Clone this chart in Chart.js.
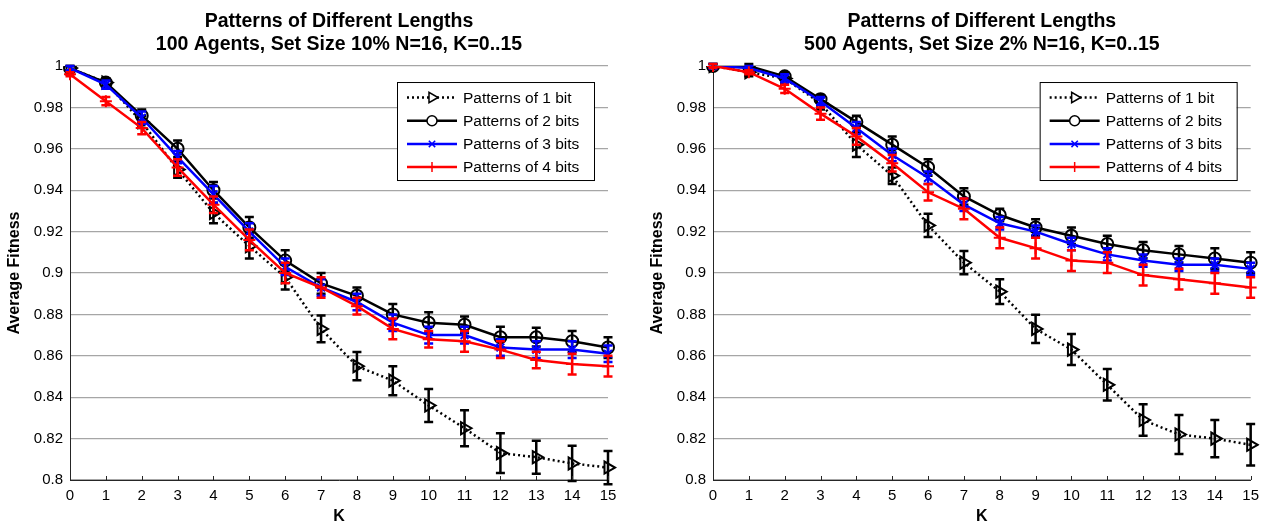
<!DOCTYPE html>
<html>
<head>
<meta charset="utf-8">
<title>Patterns of Different Lengths</title>
<script src="https://cdn.jsdelivr.net/npm/chart.js@4/dist/chart.umd.min.js"></script>
<style>
  html, body { margin: 0; padding: 0; background: #fff; }
  #wrap { position: relative; width: 1266px; height: 523px; }
  canvas { position: absolute; top: 0; }
</style>
</head>
<body>
<div id="wrap">
  <canvas id="chartLeft" width="633" height="523" style="left:0"></canvas>
  <canvas id="chartRight" width="623" height="523" style="left:643px"></canvas>
</div>
<script>
// ---- data ----
const kLabels = ['0','1','2','3','4','5','6','7','8','9','10','11','12','13','14','15'];
const yTickLabels = ['0.8','0.82','0.84','0.86','0.88','0.9','0.92','0.94','0.96','0.98','1'];
const seriesNames = ['Patterns of 1 bit', 'Patterns of 2 bits', 'Patterns of 3 bits', 'Patterns of 4 bits'];

// 100 agents, set size 10%
const bit1_100 = [0.999, 0.992, 0.973, 0.950, 0.929, 0.913, 0.898, 0.873, 0.855, 0.848, 0.836, 0.825, 0.813, 0.811, 0.808, 0.806];
const bit2_100 = [0.999, 0.992, 0.976, 0.960, 0.940, 0.922, 0.906, 0.895, 0.889, 0.880, 0.876, 0.875, 0.869, 0.869, 0.867, 0.864];
const bit3_100 = [0.999, 0.991, 0.975, 0.956, 0.938, 0.920, 0.903, 0.893, 0.886, 0.876, 0.870, 0.870, 0.864, 0.863, 0.863, 0.861];
const bit4_100 = [0.996, 0.983, 0.970, 0.951, 0.933, 0.916, 0.900, 0.893, 0.884, 0.873, 0.868, 0.867, 0.863, 0.858, 0.856, 0.855];
const err1_100 = [0.001, 0.002, 0.003, 0.004, 0.005, 0.006, 0.006, 0.0065, 0.0068, 0.007, 0.008, 0.0087, 0.0096, 0.008, 0.0085, 0.008];
const err2_100 = [0.001, 0.002, 0.003, 0.004, 0.004, 0.005, 0.005, 0.005, 0.004, 0.005, 0.005, 0.004, 0.005, 0.0045, 0.005, 0.005];
const err3_100 = [0.001, 0.002, 0.003, 0.003, 0.004, 0.004, 0.004, 0.004, 0.004, 0.004, 0.004, 0.004, 0.004, 0.004, 0.004, 0.004];
const err4_100 = [0.001, 0.002, 0.003, 0.004, 0.004, 0.005, 0.005, 0.005, 0.004, 0.005, 0.004, 0.005, 0.004, 0.004, 0.005, 0.005];

// 500 agents, set size 2%
const bit1_500 = [1.0, 0.997, 0.994, 0.982, 0.962, 0.947, 0.923, 0.905, 0.891, 0.873, 0.863, 0.846, 0.829, 0.822, 0.820, 0.817];
const bit2_500 = [1.0, 1.0, 0.995, 0.984, 0.973, 0.962, 0.951, 0.937, 0.928, 0.922, 0.918, 0.914, 0.911, 0.909, 0.907, 0.905];
const bit3_500 = [1.0, 0.999, 0.994, 0.983, 0.970, 0.957, 0.946, 0.933, 0.924, 0.920, 0.914, 0.909, 0.906, 0.904, 0.904, 0.902];
const bit4_500 = [1.0, 0.997, 0.989, 0.977, 0.966, 0.953, 0.939, 0.931, 0.917, 0.912, 0.906, 0.905, 0.899, 0.897, 0.895, 0.893];
const err1_500 = [0.001, 0.002, 0.002, 0.003, 0.006, 0.004, 0.0056, 0.0056, 0.006, 0.0068, 0.0075, 0.0076, 0.0076, 0.0094, 0.009, 0.01];
const err2_500 = [0.001, 0.001, 0.002, 0.002, 0.003, 0.004, 0.004, 0.004, 0.003, 0.004, 0.004, 0.004, 0.004, 0.004, 0.005, 0.005];
const err3_500 = [0.001, 0.001, 0.002, 0.002, 0.003, 0.003, 0.003, 0.003, 0.003, 0.003, 0.003, 0.003, 0.003, 0.003, 0.003, 0.003];
const err4_500 = [0.001, 0.001, 0.002, 0.003, 0.004, 0.004, 0.004, 0.005, 0.005, 0.005, 0.005, 0.005, 0.005, 0.005, 0.005, 0.005];

const FONT = "'Liberation Sans', Arial, sans-serif";
Chart.defaults.font.family = FONT;
Chart.defaults.color = '#000';

// ---- plugins ----
// vertical error bars with caps, drawn right after their own line
const errorBars = {
  id: 'errorBars',
  afterDatasetDraw(chart, args) {
    const ds = chart.data.datasets[args.index];
    if (!ds.errors) return;
    const xs = chart.scales.x, ys = chart.scales.y, ctx = chart.ctx;
    ctx.save();
    ctx.strokeStyle = ds.borderColor;
    ctx.lineWidth = 2.5;
    ctx.setLineDash([]);
    ds.data.forEach((v, i) => {
      const px = xs.getPixelForValue(i);
      const top = ys.getPixelForValue(v + ds.errors[i]);
      const bot = ys.getPixelForValue(v - ds.errors[i]);
      ctx.beginPath();
      ctx.moveTo(px, top); ctx.lineTo(px, bot);
      ctx.moveTo(px - 4.5, top); ctx.lineTo(px + 4.5, top);
      ctx.moveTo(px - 4.5, bot); ctx.lineTo(px + 4.5, bot);
      ctx.stroke();
    });
    ctx.restore();
  }
};

// small inward tick marks on the K axis
const innerTicks = {
  id: 'innerTicks',
  afterDraw(chart) {
    const xs = chart.scales.x, ctx = chart.ctx, b = chart.chartArea.bottom;
    ctx.save();
    ctx.strokeStyle = '#262626';
    ctx.lineWidth = 1;
    xs.ticks.forEach((t, i) => {
      const px = Math.round(xs.getPixelForTick(i)) + 0.5;
      ctx.beginPath();
      ctx.moveTo(px, b); ctx.lineTo(px, b - 4);
      ctx.stroke();
    });
    ctx.restore();
  }
};

// boxed legend in the upper right corner of the plot
const boxLegend = {
  id: 'boxLegend',
  afterDraw(chart) {
    const ctx = chart.ctx, area = chart.chartArea;
    const w = 197, h = 98;
    const left = area.right - 14 - w, top = area.top + 16;
    ctx.save();
    ctx.fillStyle = '#fff';
    ctx.fillRect(left, top, w, h);
    ctx.strokeStyle = '#000';
    ctx.lineWidth = 1;
    ctx.strokeRect(left + 0.5, top + 0.5, w, h);
    chart.data.datasets.forEach((ds, row) => {
      const y = top + 15.5 + row * 23.2;
      ctx.strokeStyle = ds.borderColor;
      ctx.lineWidth = ds.borderWidth;
      ctx.setLineDash(ds.borderDash || []);
      ctx.beginPath();
      ctx.moveTo(left + 10, y); ctx.lineTo(left + 60, y);
      ctx.stroke();
      ctx.setLineDash([]);
      ctx.fillStyle = '#fff';
      ctx.lineWidth = 1.5;
      Chart.helpers.drawPoint(ctx, {
        pointStyle: ds.pointStyle, rotation: ds.pointRotation || 0,
        radius: ds.pointRadius - 1, borderWidth: 1.5
      }, left + 35, y);
      ctx.fillStyle = '#000';
      ctx.font = '15.5px ' + FONT;
      ctx.textBaseline = 'middle';
      ctx.fillText(ds.label, left + 66, y + 1);
    });
    ctx.restore();
  }
};

function makeChart(id, titleLines, series, errors, padRight) {
  const colors = ['#000', '#000', '#0000ff', '#ff0000'];
  const styles = [
    { pointStyle: 'triangle', pointRotation: 90, pointRadius: 7, borderDash: [2, 3] },
    { pointStyle: 'circle', pointRadius: 6 },
    { pointStyle: 'crossRot', pointRadius: 5.5 },
    { pointStyle: 'cross', pointRadius: 6 }
  ];
  const datasets = series.map((data, i) => Object.assign({
    label: seriesNames[i],
    data: data,
    errors: errors[i],
    borderColor: colors[i],
    borderWidth: 2.5,
    pointBorderColor: colors[i],
    pointBackgroundColor: 'rgba(0,0,0,0)',
    pointBorderWidth: 2,
    tension: 0,
    order: 3 - i
  }, styles[i]));

  return new Chart(document.getElementById(id), {
    type: 'line',
    data: { labels: kLabels, datasets: datasets },
    plugins: [errorBars, innerTicks, boxLegend],
    options: {
      responsive: false,
      animation: false,
      devicePixelRatio: 1,
      layout: { padding: { left: 0, right: padRight, top: 0, bottom: 0 } },
      plugins: {
        legend: { display: false },
        tooltip: { enabled: false },
        title: {
          display: true,
          text: titleLines,
          fullSize: false,
          color: '#000',
          font: { size: 19.5, weight: 'bold', lineHeight: 1.18 },
          padding: { top: 10, bottom: 10 }
        }
      },
      scales: {
        x: {
          type: 'category',
          offset: false,
          grid: { display: false, drawTicks: false },
          border: { color: '#262626', width: 1 },
          ticks: { font: { size: 15 }, color: '#000', padding: 7, maxRotation: 0, autoSkip: false },
          title: { display: true, text: 'K', color: '#000', font: { size: 16, weight: 'bold', lineHeight: 1 }, padding: { top: 0, bottom: -2 } },
          afterFit(s) { s.height = 43; }
        },
        y: {
          min: 0.8,
          max: 1.0,
          grid: { color: '#a6a6a6', lineWidth: 1.2, drawTicks: false },
          border: { color: '#262626', width: 1 },
          ticks: {
            stepSize: 0.02,
            font: { size: 15 },
            color: '#000',
            padding: 7,
            callback: (v, i) => yTickLabels[i]
          },
          title: { display: true, text: 'Average Fitness', color: '#000', font: { size: 16, weight: 'bold', lineHeight: 1.2 }, padding: { top: 5, bottom: 0 } },
          afterFit(s) { s.width = 70; }
        }
      }
    }
  });
}

makeChart('chartLeft',
  ['Patterns of Different Lengths', '100 Agents, Set Size 10% N=16, K=0..15'],
  [bit1_100, bit2_100, bit3_100, bit4_100],
  [err1_100, err2_100, err3_100, err4_100], 25);

makeChart('chartRight',
  ['Patterns of Different Lengths', '500 Agents, Set Size 2% N=16, K=0..15'],
  [bit1_500, bit2_500, bit3_500, bit4_500],
  [err1_500, err2_500, err3_500, err4_500], 13);
</script>
</body>
</html>
